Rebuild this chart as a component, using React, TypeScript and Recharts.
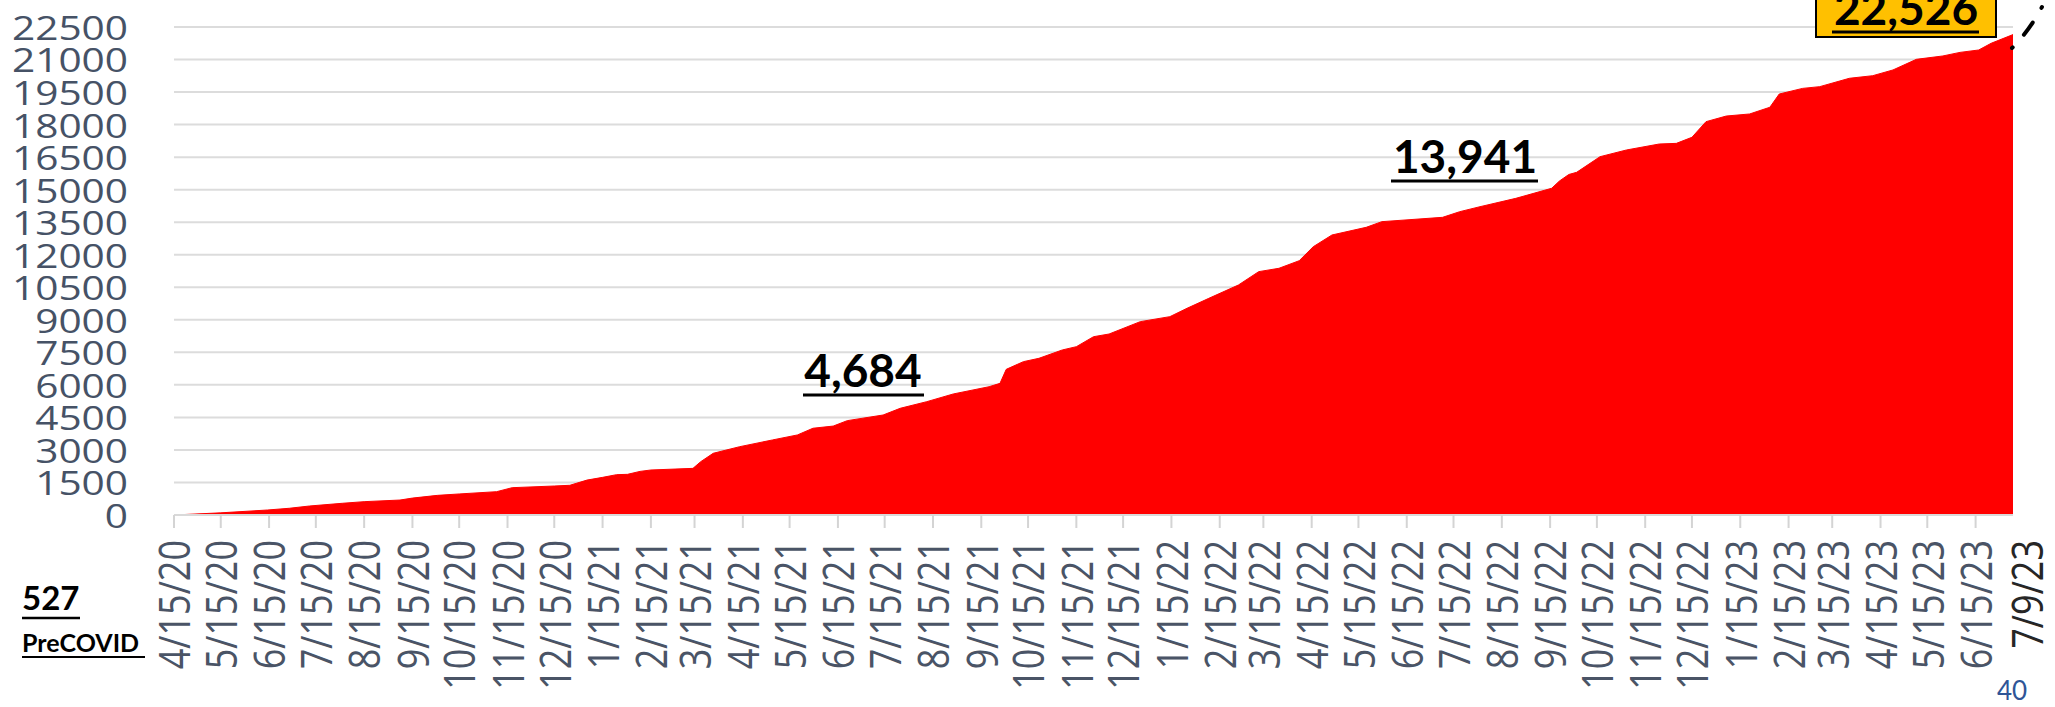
import React from "react";
import { Area, AreaChart, CartesianGrid, XAxis, YAxis } from "recharts";

// cumulative count
const dates = [
  "4/15/20", "5/15/20", "6/14/20", "6/28/20", "7/11/20", "8/1/20", "8/15/20",
  "9/7/20", "9/15/20", "10/1/20", "10/15/20", "11/8/20", "11/18/20", "12/15/20",
  "12/25/20", "1/5/21", "1/15/21", "1/24/21", "1/31/21", "2/8/21", "2/15/21",
  "3/14/21", "3/19/21", "3/27/21", "4/13/21", "5/4/21", "5/20/21", "5/30/21",
  "6/12/21", "6/21/21", "7/14/21", "7/25/21", "8/11/21", "8/28/21", "9/20/21",
  "9/27/21", "10/1/21", "10/12/21", "10/22/21", "11/6/21", "11/15/21", "11/26/21",
  "12/6/21", "12/26/21", "1/14/22", "1/25/22", "2/8/22", "2/27/22", "3/12/22",
  "3/25/22", "4/7/22", "4/16/22", "4/28/22", "5/20/22", "5/30/22", "7/8/22",
  "7/19/22", "8/1/22", "8/24/22", "9/16/22", "9/21/22", "9/27/22", "10/2/22",
  "10/17/22", "11/3/22", "11/24/22", "12/5/22", "12/15/22", "12/24/22", "1/6/23",
  "1/21/23", "2/3/23", "2/9/23", "2/24/23", "3/7/23", "3/26/23", "4/10/23",
  "4/23/23", "5/8/23", "5/25/23", "6/5/23", "6/17/23", "6/25/23", "7/9/23",
];
const counts = [
  0, 100, 230, 310, 415, 540, 615,
  690, 780, 905, 970, 1075, 1260, 1337,
  1370, 1610, 1735, 1860, 1875, 2010, 2075,
  2150, 2460, 2845, 3150, 3460, 3690, 4000,
  4100, 4350, 4610, 4920, 5225, 5580, 5915,
  6070, 6715, 7070, 7225, 7610, 7760, 8220,
  8345, 8915, 9145, 9530, 9990, 10605, 11220,
  11375, 11725, 12370, 12910, 13265, 13525, 13725,
  13985, 14215, 14600, 15065, 15400, 15700, 15800,
  16520, 16830, 17105, 17135, 17415, 18135, 18395,
  18490, 18800, 19410, 19670, 19750, 20135, 20255,
  20520, 21010, 21165, 21330, 21440, 21750, 22150,
];

const tickLabels = [
  "4/15/20", "5/15/20", "6/15/20", "7/15/20", "8/15/20", "9/15/20", "10/15/20",
  "11/15/20", "12/15/20", "1/15/21", "2/15/21", "3/15/21", "4/15/21", "5/15/21",
  "6/15/21", "7/15/21", "8/15/21", "9/15/21", "10/15/21", "11/15/21", "12/15/21",
  "1/15/22", "2/15/22", "3/15/22", "4/15/22", "5/15/22", "6/15/22", "7/15/22",
  "8/15/22", "9/15/22", "10/15/22", "11/15/22", "12/15/22", "1/15/23", "2/15/23",
  "3/15/23", "4/15/23", "5/15/23", "6/15/23", "7/9/23",
];
const yTicks = [
  0, 1500, 3000, 4500, 6000, 7500, 9000, 10500, 12000, 13500, 15000, 16500,
  18000, 19500, 21000, 22500,
];

const toTime = (s: string) => {
  const [m, d, y] = s.split("/").map(Number);
  return Date.UTC(2000 + y, m - 1, d);
};

const data = dates.map((d, i) => ({ t: toTime(d), count: counts[i] }));
const xTicks = tickLabels.map(toTime);
const lastTick = xTicks[xTicks.length - 1];

const AXIS_FONT = "'Open Sans', 'DejaVu Sans', sans-serif";
const NOTE_FONT = "Lato, 'Open Sans', sans-serif";

const XTick = (props: any) => {
  const { x, y, payload } = props;
  const isLast = payload.value === lastTick;
  const label = tickLabels[xTicks.indexOf(payload.value)];
  return (
    <g>
      {!isLast && (
        <line x1={x} x2={x} y1={y} y2={y + 13} stroke="#d4d4d4" strokeWidth={2} />
      )}
      <text
        transform={`translate(${x + (isLast ? 14 : 0)},${y + 25}) scale(1.2,1) rotate(-90)`}
        textAnchor="end"
        dominantBaseline="central"
        fontSize={36}
        fontFamily={AXIS_FONT}
        fill={isLast ? "#262626" : "#4a5466"}
      >
        {label}
      </text>
    </g>
  );
};

const YTick = (props: any) => {
  const { x, y, payload } = props;
  return (
    <text
      transform={`translate(${x},${y}) scale(1.23,1)`}
      textAnchor="end"
      dominantBaseline="central"
      fontSize={33}
      fontFamily={AXIS_FONT}
      fill="#465266"
    >
      {payload.value}
    </text>
  );
};

export default function App() {
  return (
    <div style={{ position: "absolute", left: 0, top: 0, width: 2055, height: 707, background: "#fff" }}>
      <AreaChart
        width={2055}
        height={707}
        data={data}
        margin={{ top: 27, right: 42, bottom: 0, left: 0 }}
      >
        <CartesianGrid vertical={false} stroke="#dcdcdc" strokeWidth={2} />
        <XAxis
          dataKey="t"
          type="number"
          scale="linear"
          domain={[xTicks[0], lastTick]}
          ticks={xTicks}
          interval={0}
          height={192}
          tickSize={0}
          tickMargin={0}
          tickLine={false}
          axisLine={{ stroke: "#d9d9d9", strokeWidth: 2 }}
          tick={<XTick />}
        />
        <YAxis
          type="number"
          domain={[0, 22500]}
          ticks={yTicks}
          interval={0}
          width={174}
          tickSize={0}
          tickMargin={46}
          tickLine={false}
          axisLine={false}
          tick={<YTick />}
        />
        <Area
          type="linear"
          dataKey="count"
          fill="#ff0000"
          fillOpacity={1}
          stroke="#ff0000"
          strokeWidth={1}
          dot={false}
          activeDot={false}
          isAnimationActive={false}
        />
      </AreaChart>
      <svg
        width={2055}
        height={707}
        style={{ position: "absolute", left: 0, top: 0, pointerEvents: "none" }}
      >
        <g fontFamily={NOTE_FONT} fontWeight={700} fill="#000">
          <text x={863} y={387} fontSize={46} textAnchor="middle">4,684</text>
          <line x1={803} x2={924} y1={395} y2={395} stroke="#000" strokeWidth={3} />

          <text x={1465} y={173} fontSize={46} textAnchor="middle">13,941</text>
          <line x1={1391} x2={1538} y1={181} y2={181} stroke="#000" strokeWidth={3} />

          <rect x={1816} y={-3} width={180} height={40} fill="#ffc000" stroke="#000" strokeWidth={2} />
          <text x={1906} y={25} fontSize={46} textAnchor="middle">22,526</text>
          <line x1={1832} x2={1979} y1={32} y2={32} stroke="#000" strokeWidth={3} />

          <text x={22} y={610} fontSize={33}>527</text>
          <line x1={22} x2={80} y1={618} y2={618} stroke="#000" strokeWidth={2.5} />
          <text x={22} y={652} fontSize={25}>PreCOVID</text>
          <line x1={22} x2={145} y1={657} y2={657} stroke="#000" strokeWidth={2} />
        </g>
        <path
          d="M2012,48 Q2030,30 2043,5"
          fill="none"
          stroke="#000"
          strokeWidth={4}
          strokeLinecap="round"
          strokeDasharray="1 17 15 17"
        />
        <text x={1997} y={700} fontSize={26} fontFamily={NOTE_FONT} fill="#2f5597">40</text>
      </svg>
    </div>
  );
}
